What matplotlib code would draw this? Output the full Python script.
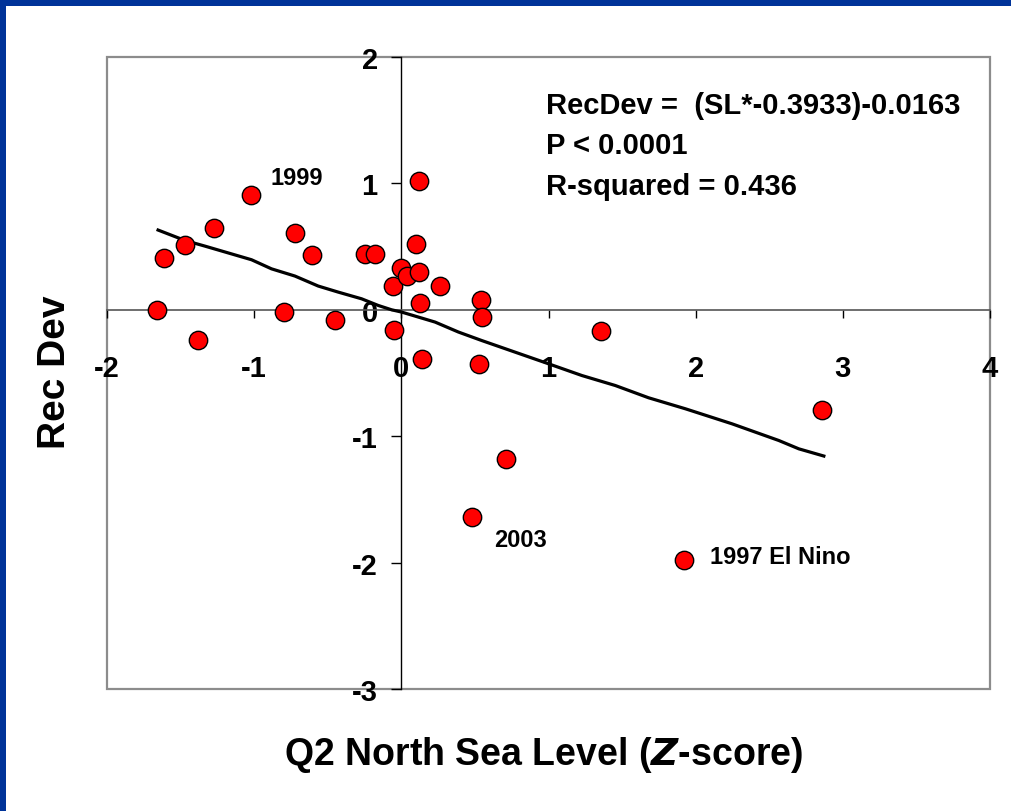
import matplotlib
matplotlib.use("Agg")
import matplotlib.pyplot as plt
from matplotlib.patches import Rectangle

plt.rcParams['font.family'] = ['Liberation Sans', 'DejaVu Sans']
plt.rcParams['font.weight'] = 'bold'

# Data: Q2 North Sea Level (Z-score) vs recruitment deviation
sea_level = [-1.66, -1.61, -1.47, -1.38, -1.27, -1.02, -0.80, -0.72, -0.61, -0.45,
             -0.25, -0.18, -0.06, -0.05, 0.00, 0.04, 0.10, 0.12, 0.12, 0.13,
             0.14, 0.26, 0.48, 0.53, 0.54, 0.55, 0.71, 1.36, 1.92, 2.86]
rec_dev = [0.00, 0.41, 0.51, -0.24, 0.65, 0.91, -0.02, 0.61, 0.43, -0.08,
           0.44, 0.44, 0.19, -0.16, 0.33, 0.27, 0.52, 0.30, 1.02, 0.05,
           -0.39, 0.19, -1.64, -0.43, 0.08, -0.06, -1.18, -0.17, -1.98, -0.79]

# Fitted line as drawn
fit_x = [-1.653, -1.469, -1.335, -1.018, -0.882, -0.723, -0.565, -0.429, -0.270,
         -0.156, -0.066, 0.002, 0.229, 0.388, 0.546, 0.773, 1.000, 1.227,
         1.454, 1.680, 1.930, 2.247, 2.406, 2.565, 2.701, 2.871]
fit_y = [0.631, 0.548, 0.504, 0.396, 0.324, 0.267, 0.188, 0.140, 0.087,
         0.034, 0.000, -0.018, -0.097, -0.176, -0.243, -0.335, -0.427, -0.520,
         -0.599, -0.696, -0.783, -0.902, -0.968, -1.034, -1.100, -1.157]

x_ticks = [-2, -1, 0, 1, 2, 3, 4]
y_ticks = [-3, -2, -1, 0, 1, 2]

labels = ["1999", "2003", "1997 El Nino"]
label_pos = [(-0.89, 0.997), (0.63, -1.867), (2.10, -2.0)]

stats_lines = ["RecDev =  (SL*-0.3933)-0.0163", "P < 0.0001", "R-squared = 0.436"]
stats_y = [1.559, 1.242, 0.918]

W, H = 1011, 812
fig = plt.figure(figsize=(W / 100, H / 100), dpi=100)
fig.patch.set_facecolor('white')

# blue frame (top and left)
fig.patches.append(Rectangle((0, 1 - 7 / H), 1, 7 / H, transform=fig.transFigure,
                             facecolor='#003399', edgecolor='none'))
fig.patches.append(Rectangle((0, 0), 6 / W, 1, transform=fig.transFigure,
                             facecolor='#003399', edgecolor='none'))

L, R, T, B = 107, 990, 58, 690
ax = fig.add_axes([L / W, (H - B) / H, (R - L) / W, (B - T) / H])
ax.set_xlim(-2, 4)
ax.set_ylim(-3, 2)

for s in ['top', 'right']:
    ax.spines[s].set_visible(False)
ax.spines['left'].set_position(('data', 0))
ax.spines['bottom'].set_position(('data', 0))
ax.spines['left'].set_color('black')
ax.spines['left'].set_linewidth(1.0)
ax.spines['bottom'].set_color('#555555')
ax.spines['bottom'].set_linewidth(1.2)

ax.add_patch(Rectangle((0, 0), 1, 1, transform=ax.transAxes, fill=False,
                       edgecolor='#8c8c8c', linewidth=1.6, clip_on=False, zorder=0.5))

ax.set_xticks(x_ticks)
ax.set_yticks(y_ticks)
ax.set_xticklabels([str(v) for v in x_ticks])
ax.set_yticklabels([str(v) for v in y_ticks])
ax.tick_params(axis='x', direction='out', length=6, width=1, color='black',
               pad=26, labelsize=21)
ax.tick_params(axis='y', direction='out', length=7, width=1, color='black',
               pad=10, labelsize=21)
for lab in ax.get_xticklabels() + ax.get_yticklabels():
    lab.set_fontweight('bold')

ax.plot(fit_x, fit_y, color='black', linewidth=2.3, zorder=3)
ax.scatter(sea_level, rec_dev, s=175, facecolor='#ff0000', edgecolor='black',
           linewidth=1.0, zorder=4)

for t, (px, py) in zip(labels, label_pos):
    ax.text(px, py, t, fontsize=17, fontweight='bold', ha='left', va='baseline', zorder=5)

for t, yy in zip(stats_lines, stats_y):
    ax.text(0.985, yy, t, fontsize=21, fontweight='bold',
            ha='left', va='baseline', zorder=5)

ax.set_xlabel(r'Q2 North Sea Level ($\boldsymbol{Z}$-score)', fontsize=27, fontweight='bold')
ax.xaxis.set_label_coords((544 - L) / (R - L), (B - 755) / (B - T))
ax.xaxis.label.set_va('center')

ax.set_ylabel('Rec Dev', fontsize=28, fontweight='bold')
ax.yaxis.set_label_coords((55 - L) / (R - L), (B - 372) / (B - T))
ax.yaxis.label.set_va('center')

fig.savefig('out.png', dpi=100, facecolor='white')
